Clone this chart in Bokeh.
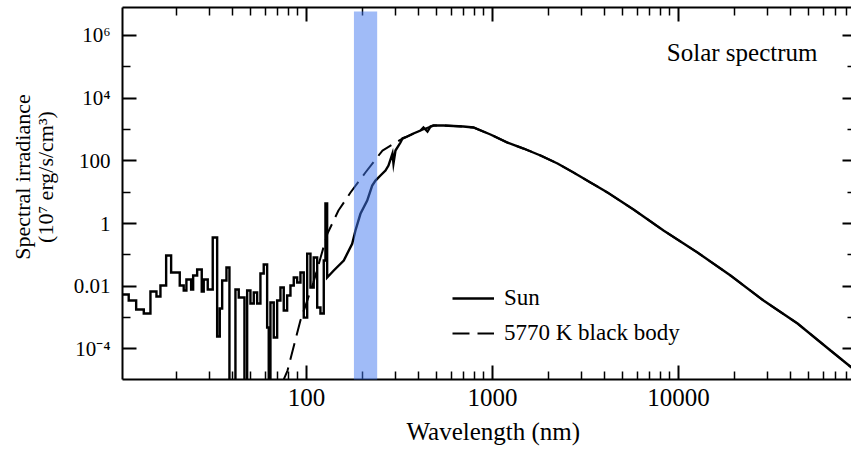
from bokeh.plotting import figure
from bokeh.models import (Range1d, FixedTicker, CustomJSTickFormatter, LogAxis,
                          Legend, LegendItem, Label)
from bokeh.embed import file_html
from bokeh.resources import INLINE

# ---------------- data ----------------
# noisy short-wavelength part of the solar spectrum (step edges)
uv_wl = [10.25, 11.08, 12.15, 13.35, 14.50, 15.62, 16.41, 17.61, 18.73, 20.84,
         21.89, 22.63, 23.99, 24.60, 25.85, 27.36, 28.04, 29.47, 31.35, 33.11,
         34.20, 35.23, 37.15, 38.55, 41.52, 43.25, 46.42, 48.00, 50.00, 52.09,
         54.32, 56.57, 58.93, 61.47, 62.70, 64.04, 66.71, 69.58, 72.47, 75.50,
         78.74, 82.04, 85.46, 89.13, 92.84, 96.72, 100.9, 105.1, 109.4, 114.2,
         118.9, 123.9, 126.5, 129.2]
uv_val = [0.00543, 0.00350, 0.00181, 0.00135, 0.00678, 0.00469, 0.0105, 0.0953, 0.0274, 0.0105,
          0.00729, 0.0164, 0.00785, 0.0219, 0.0341, 0.00678, 0.0164, 0.00785, 0.358, 0.000249,
          0.00194, 0.0152, 0.0395, 1e-6, 0.00785, 0.00436, 1e-6, 0.00729, 0.00281, 0.00630,
          0.00281, 0.0254, 0.0492, 0.000482, 1e-6, 0.00302, 0.000231, 0.00350, 0.00909, 0.00168,
          0.00505, 0.0105, 0.0190, 0.0131, 0.0274, 0.00100, 0.110, 0.00909, 0.0823, 0.00209,
          0.00135, 0.0661, 4.35, 0.0190]

# smoother part of the solar spectrum
sun_wl = [140.2, 158.7, 176.1, 183.4, 195.1, 212.1, 225.6, 235.0, 250.0, 265.9,
          276.0, 290.0, 293.6, 301.0, 320.2, 328.2, 349.1, 376.0, 410.2, 425.6,
          447.2, 464.2, 481.8, 545.2, 698.4, 790.6, 975.5, 1204, 1468, 1812,
          2237, 2726, 3365, 4153, 5730, 8307, 12650, 19040, 28640, 43640,
          65640, 85120]
sun_val = [0.0317, 0.0661, 0.225, 0.598, 2.04, 5.42, 16.3, 23.5, 34.0, 49.1,
           70.8, 171, 82.0, 213, 383, 514, 596, 743, 926, 1154,
           860, 1242, 1337, 1337, 1242, 1154, 690, 383, 247, 148,
           82.0, 42.4, 20.3, 9.75, 2.80, 0.598, 0.119, 0.0219, 0.00350, 0.000646,
           8.89e-5, 2.55e-5]

# 5770 K black body
bb_wl = [74.0, 79.1, 92.8, 109.0, 129.7, 148.6, 172.5, 207.5, 256.2, 328.0,
         410.2, 481.8, 545.2, 698.4, 790.6, 975.5, 1204, 1468, 1812, 2237,
         2726, 3365, 4153, 5730, 8307, 12650, 19040, 28640, 43640, 65640, 85120]
bb_val = [8e-6, 2.05e-5, 8.05e-4, 0.0131, 0.48, 2.60, 9.75, 42.4, 213, 514,
          926, 1337, 1337, 1242, 1154, 690, 383, 247, 148, 82.0,
          42.4, 20.3, 9.75, 2.80, 0.598, 0.119, 0.0219, 0.00350, 0.000646, 8.89e-5, 2.55e-5]

# axis extents
x_start, x_end = 10.26, 85100
y_start, y_end = 1.06e-5, 7.76e6

# highlighted wavelength band
band_left = [180]
band_right = [240]
band_top = [5.8e6]
band_bottom = [y_start]

# ticks
x_major = [100, 1000, 10000]
x_major_labels = ["100", "1000", "10000"]
x_minor = [20, 30, 40, 50, 60, 70, 80, 90,
           200, 300, 400, 500, 600, 700, 800, 900,
           2000, 3000, 4000, 5000, 6000, 7000, 8000, 9000,
           20000, 30000, 40000, 50000, 60000, 70000, 80000]
y_major = [1e-4, 1e-2, 1, 100, 1e4, 1e6]
y_major_labels = ["10\u207b\u2074", "0.01", "1", "100", "10\u2074", "10\u2076"]
y_minor = [1e-5, 1e-3, 0.1, 10, 1e3, 1e5]

# ---------------- build the step line ----------------
step_x, step_y = [], []
for i in range(len(uv_wl) - 1):
    step_x += [uv_wl[i], uv_wl[i + 1]]
    step_y += [uv_val[i], uv_val[i]]
step_x.append(uv_wl[-1]); step_y.append(uv_val[-1])
sun_x = step_x + sun_wl
sun_y = step_y + sun_val

SERIF = "Liberation Serif"

p = figure(width=851, height=453, x_axis_type="log", y_axis_type="log",
           x_range=Range1d(x_start, x_end), y_range=Range1d(y_start, y_end),
           output_backend="svg", toolbar_location=None,
           min_border_left=122, min_border_right=0, min_border_top=7, min_border_bottom=74)
p.outline_line_color = None
p.xgrid.visible = False
p.ygrid.visible = False
p.background_fill_color = "white"
p.border_fill_color = "white"

def js_fmt(vals, labs):
    return CustomJSTickFormatter(args=dict(vals=vals, labs=labs), code="""
        let best = ''; let bd = 1e9;
        for (let i = 0; i < vals.length; i++) {
            const d = Math.abs(Math.log10(tick) - Math.log10(vals[i]));
            if (d < bd) { bd = d; best = labs[i]; }
        }
        return bd < 0.01 ? best : '';
    """)

def style_axis(ax):
    ax.axis_line_width = 2
    ax.axis_line_color = "black"
    ax.major_tick_line_color = "black"
    ax.minor_tick_line_color = "black"
    ax.major_tick_line_width = 2
    ax.minor_tick_line_width = 1.5
    ax.major_tick_in = 14
    ax.major_tick_out = 0
    ax.minor_tick_in = 8
    ax.minor_tick_out = 0
    ax.major_label_text_color = "black"
    ax.axis_label_text_color = "black"

xa = p.xaxis[0]
xa.ticker = FixedTicker(ticks=x_major, minor_ticks=x_minor)
xa.formatter = js_fmt(x_major, x_major_labels)
style_axis(xa)
xa.major_label_standoff = 9
xa.major_label_text_font = SERIF
xa.major_label_text_font_size = "25px"
xa.axis_label = "\u00a0\u00a0Wavelength (nm)"
xa.axis_label_text_font = SERIF
xa.axis_label_text_font_size = "25px"
xa.axis_label_text_font_style = "normal"
xa.axis_label_standoff = 9

ya = p.yaxis[0]
ya.ticker = FixedTicker(ticks=y_major, minor_ticks=y_minor)
ya.formatter = js_fmt(y_major, y_major_labels)
style_axis(ya)
ya.major_label_standoff = 12
ya.major_label_text_font = SERIF
ya.major_label_text_font_size = "21px"
pad = "\u00a0" * 6
ya.axis_label = pad + "Spectral irradiance\n" + pad + "(10\u2077 erg/s/cm\u00b3)"
ya.axis_label_text_font = SERIF
ya.axis_label_text_font_size = "22px"
ya.axis_label_text_font_style = "normal"
ya.axis_label_text_line_height = 0.92
ya.axis_label_standoff = 13

top = LogAxis(ticker=FixedTicker(ticks=x_major, minor_ticks=x_minor),
              major_label_text_font_size="1px", major_label_standoff=0)
style_axis(top)
top.major_label_text_color = None
p.add_layout(top, "above")

right = LogAxis(ticker=FixedTicker(ticks=y_major, minor_ticks=y_minor),
                major_label_text_font_size="1px", major_label_standoff=0)
style_axis(right)
right.major_label_text_color = None
right.axis_line_color = None
right.major_tick_in = 9
right.minor_tick_in = 4
p.add_layout(right, "right")

bb_r = p.line(bb_wl, bb_val, line_color="black", line_width=2, line_dash="17 8")
sun_r = p.line(sun_x, sun_y, line_color="black", line_width=2.4, line_join="miter")

p.quad(left=band_left, right=band_right, top=band_top, bottom=band_bottom,
       fill_color="#4278f0", fill_alpha=0.5, line_color=None, level="overlay")

legend = Legend(items=[LegendItem(label="Sun", renderers=[sun_r]),
                       LegendItem(label="5770 K black body", renderers=[bb_r])],
                location=(330, 33), padding=0, margin=0, spacing=9,
                glyph_width=42, glyph_height=24, label_height=24,
                label_standoff=10, label_text_font=SERIF, label_text_font_size="23px",
                label_text_color="black",
                border_line_color=None, background_fill_alpha=0)
p.add_layout(legend)

p.add_layout(Label(x=695, y=327, x_units="screen", y_units="screen",
                   text="Solar spectrum", text_align="right", text_baseline="middle",
                   text_font=SERIF, text_font_size="25px", text_color="black"))

open("out.html", "w").write(file_html(p, INLINE))
